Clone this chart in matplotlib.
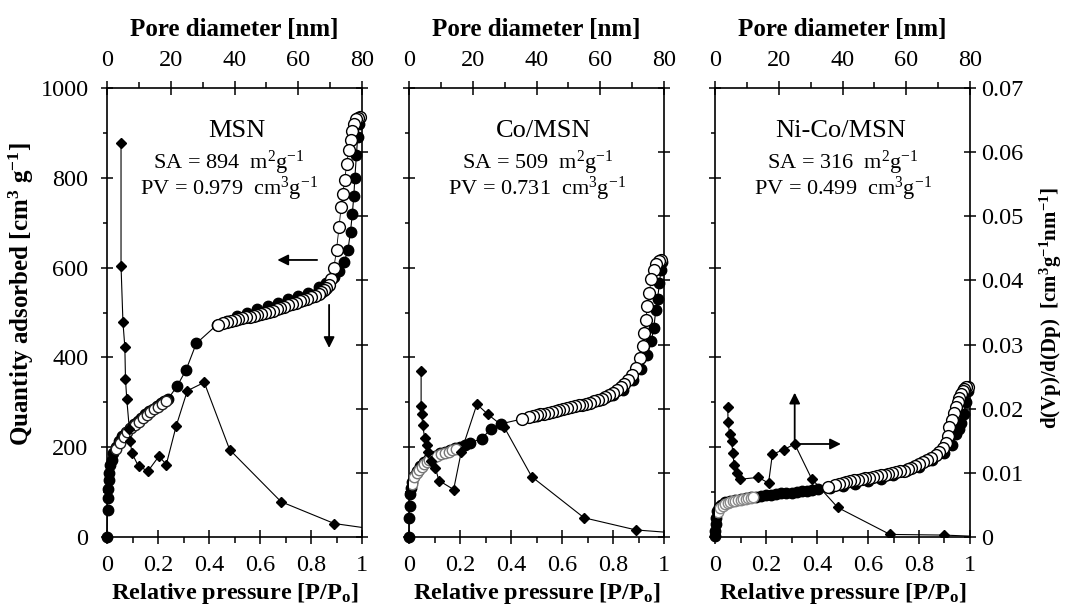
import matplotlib
matplotlib.use("Agg")
import matplotlib.pyplot as plt
from matplotlib.ticker import MultipleLocator, FuncFormatter

plt.rcParams['font.family'] = ['Liberation Serif', 'DejaVu Serif']
plt.rcParams['mathtext.fontset'] = 'custom'
plt.rcParams['mathtext.rm'] = 'Liberation Serif'
plt.rcParams['mathtext.it'] = 'Liberation Serif:italic'
plt.rcParams['mathtext.bf'] = 'Liberation Serif:bold'
plt.rcParams['axes.linewidth'] = 1.2

# ---------------- data ----------------
samples = ['MSN', 'Co/MSN', 'Ni-Co/MSN']
surface_area = [894, 509, 316]      # m2/g
pore_volume = [0.979, 0.731, 0.499]  # cm3/g

# MSN: N2 adsorption branch (relative pressure, quantity adsorbed)
ads1_p = [0.0, 0.002, 0.003, 0.004, 0.006, 0.008, 0.012, 0.018, 0.025, 0.035,
          0.047, 0.06, 0.075, 0.09, 0.105, 0.12, 0.135, 0.15, 0.165, 0.18,
          0.195, 0.21, 0.225, 0.24, 0.275, 0.31, 0.35, 0.43, 0.47, 0.51,
          0.55, 0.59, 0.63, 0.67, 0.71, 0.75, 0.79, 0.83, 0.86, 0.89,
          0.91, 0.93, 0.945, 0.955, 0.962, 0.968, 0.972, 0.978, 0.983, 0.988, 0.992]
ads1_q = [0, 60, 86, 108, 127, 142, 160, 172, 186, 200,
          213, 224, 234, 243, 251, 259, 266, 273, 280, 286,
          292, 298, 303, 308, 336, 372, 431, 472, 482, 492,
          500, 508, 515, 522, 529, 536, 544, 556, 565, 578,
          592, 612, 640, 680, 720, 760, 800, 850, 890, 920, 935]
# MSN: desorption branch
des1_p = [0.992, 0.985, 0.978, 0.97, 0.962, 0.955, 0.948, 0.94, 0.932, 0.925,
          0.918, 0.91, 0.9, 0.89, 0.88, 0.87, 0.86, 0.85, 0.84, 0.83,
          0.815, 0.8, 0.785, 0.77, 0.755, 0.74, 0.725, 0.71, 0.695, 0.68,
          0.665, 0.65, 0.635, 0.62, 0.605, 0.59, 0.575, 0.56, 0.545, 0.53,
          0.515, 0.5, 0.485, 0.47, 0.455, 0.435]
des1_q = [935, 934, 930, 920, 905, 885, 862, 830, 795, 765,
          735, 690, 640, 600, 575, 562, 554, 549, 545, 541,
          537, 534, 531, 528, 525, 522, 519, 516, 513, 510,
          507, 504, 501, 499, 497, 495, 493, 491, 489, 487,
          485, 483, 481, 479, 477, 472]
des1_low_p = [0.035, 0.05, 0.065, 0.08, 0.095, 0.11, 0.125, 0.14, 0.155, 0.17,
              0.185, 0.2, 0.215, 0.23]
des1_low_q = [195, 210, 222, 233, 242, 250, 257, 264, 271, 278,
              284, 290, 296, 302]
# MSN: BJH pore size distribution (pore diameter nm, dV/dD)
psd1_d = [4.4, 4.4, 5.0, 5.6, 5.8, 6.2, 7.0, 7.3, 7.8, 9.9,
          12.9, 16.3, 18.6, 21.7, 25.2, 30.5, 38.5, 54.6, 71.3, 87.0]
psd1_v = [0.0615, 0.0423, 0.0335, 0.0296, 0.0246, 0.0215, 0.0169, 0.0149, 0.0131, 0.0110,
          0.0103, 0.0126, 0.0113, 0.0173, 0.0228, 0.0241, 0.0136, 0.0055, 0.0021, 0.0010]

# Co/MSN
ads2_p = [0.0, 0.001, 0.002, 0.004, 0.007, 0.012, 0.02, 0.03, 0.045, 0.06,
          0.08, 0.1, 0.12, 0.14, 0.16, 0.18, 0.2, 0.22, 0.24, 0.285,
          0.32, 0.36, 0.445, 0.5, 0.55, 0.6, 0.65, 0.7, 0.75, 0.8,
          0.84, 0.88, 0.91, 0.935, 0.95, 0.96, 0.968, 0.975, 0.982, 0.988, 0.993]
ads2_q = [0, 43, 68, 95, 109, 122, 136, 147, 158, 167,
          175, 181, 186, 190, 194, 198, 200, 205, 210, 219,
          240, 252, 263, 270, 277, 284, 291, 298, 306, 316,
          328, 350, 375, 405, 436, 466, 506, 531, 565, 595, 612]
des2_p = [0.99, 0.98, 0.97, 0.96, 0.95, 0.942, 0.935, 0.929, 0.922, 0.916,
          0.905, 0.89, 0.875, 0.86, 0.845, 0.83, 0.815, 0.8, 0.785, 0.77,
          0.755, 0.74, 0.725, 0.71, 0.695, 0.68, 0.665, 0.65, 0.635, 0.62,
          0.605, 0.59, 0.575, 0.56, 0.545, 0.53, 0.515, 0.5, 0.485, 0.47, 0.445]
des2_q = [618, 615, 608, 595, 575, 543, 515, 484, 455, 425,
          398, 377, 360, 350, 341, 334, 327, 321, 316, 312,
          308, 305, 302, 299, 297, 295, 293, 291, 289, 287,
          285, 283, 281, 279, 277, 275, 273, 271, 269, 267, 263]
des2_low_p = [0.01, 0.02, 0.03, 0.04, 0.05, 0.06, 0.07, 0.08, 0.095, 0.11,
              0.125, 0.14, 0.155, 0.17, 0.185]
des2_low_q = [118, 133, 143, 150, 156, 162, 167, 171, 176, 180,
              184, 187, 190, 193, 196]
psd2_d = [3.8, 3.8, 4.0, 4.3, 4.9, 5.6, 6.1, 7.0, 8.3, 9.4,
          14.0, 16.4, 21.3, 24.8, 29.9, 38.5, 54.9, 71.2, 87.0]
psd2_v = [0.0259, 0.0204, 0.0192, 0.0174, 0.0155, 0.0143, 0.0133, 0.0118, 0.0107, 0.0088,
          0.0074, 0.0133, 0.0207, 0.0191, 0.0171, 0.0094, 0.0030, 0.0011, 0.0005]

# Ni-Co/MSN
ads3_p = [0.0, 0.001, 0.002, 0.004, 0.008, 0.015, 0.025, 0.04, 0.06, 0.08,
          0.1, 0.12, 0.14, 0.16, 0.18, 0.2, 0.22, 0.24, 0.26, 0.28,
          0.3, 0.32, 0.34, 0.36, 0.38, 0.405, 0.45, 0.5, 0.55, 0.6,
          0.65, 0.7, 0.75, 0.8, 0.85, 0.9, 0.93, 0.945, 0.955, 0.965,
          0.975, 0.985, 0.992]
ads3_q = [2, 13, 29, 43, 58, 66, 72, 77, 80, 83,
          85, 87, 88, 89, 91, 93, 94, 96, 97, 98,
          99, 100, 102, 103, 105, 107, 109, 113, 118, 124,
          130, 137, 146, 157, 172, 188, 205, 229, 240, 255,
          275, 300, 325]
des3_p = [0.992, 0.985, 0.978, 0.971, 0.965, 0.958, 0.951, 0.944, 0.938, 0.928,
          0.919, 0.912, 0.906, 0.895, 0.88, 0.865, 0.846, 0.83, 0.815, 0.8,
          0.785, 0.77, 0.755, 0.74, 0.725, 0.71, 0.695, 0.68, 0.665, 0.65,
          0.635, 0.62, 0.605, 0.59, 0.575, 0.56, 0.545, 0.53, 0.515, 0.5,
          0.485, 0.47, 0.445]
des3_q = [334, 333, 330, 325, 318, 310, 300, 289, 277, 260,
          244, 225, 210, 198, 190, 183, 177, 171, 166, 162,
          158, 154, 151, 148, 146, 144, 142, 140, 138, 137,
          135, 134, 132, 131, 129, 128, 126, 124, 122, 120,
          118, 115, 111]
des3_low_p = [0.01, 0.02, 0.03, 0.04, 0.05, 0.06, 0.07, 0.08, 0.09, 0.1,
              0.11, 0.12, 0.13, 0.14, 0.15]
des3_low_q = [55, 64, 69, 73, 76, 78, 80, 81, 82, 83,
              84, 85, 86, 87, 88]
psd3_d = [4.0, 4.1, 4.6, 5.2, 5.6, 6.0, 6.8, 7.9, 13.6, 16.8,
          18.0, 21.5, 25.0, 30.3, 38.5, 54.9, 71.7, 87.0]
psd3_v = [0.0202, 0.0179, 0.0160, 0.0150, 0.0131, 0.0112, 0.0100, 0.0090, 0.0093, 0.0084,
          0.0129, 0.0136, 0.0145, 0.0091, 0.0046, 0.0004, 0.0003, 0.0]

adsorption = [(ads1_p, ads1_q), (ads2_p, ads2_q), (ads3_p, ads3_q)]
desorption = [(des1_p, des1_q), (des2_p, des2_q), (des3_p, des3_q)]
desorption_low = [(des1_low_p, des1_low_q), (des2_low_p, des2_low_q), (des3_low_p, des3_low_q)]
psd = [(psd1_d, psd1_v), (psd2_d, psd2_v), (psd3_d, psd3_v)]

# ---------------- layout ----------------
W, H = 1069, 609
fig = plt.figure(figsize=(W / 100, H / 100), dpi=100)
panel_left_px = [107, 409, 715]
panel_w_px = 255
top_px, bottom_px = 88, 537
title_x = [0.508, 0.528, 0.492]
line_x = [0.477, 0.503, 0.50]
low_edge = ['#222222', '#777777', '#888888']

TICK_FS = 17.5
LABEL_FS = 18


def num_fmt(v, _pos):
    return '0' if abs(v) < 1e-12 else f'{v:g}'


for i in range(3):
    rect = [panel_left_px[i] / W, 1 - bottom_px / H,
            panel_w_px / W, (bottom_px - top_px) / H]
    ax = fig.add_axes(rect)
    ax2 = fig.add_axes(rect, frameon=False)

    # isotherms on relative pressure / quantity adsorbed
    ax.set_xlim(0, 1)
    ax.set_ylim(0, 1000)
    ap, aq = adsorption[i]
    ax.plot(ap, aq, '-', color='black', lw=0.8, marker='o', ms=7.5,
            mfc='black', mec='black', zorder=2, clip_on=False)
    dp, dq = desorption[i]
    ax.plot(dp, dq, '-', color='black', lw=0.6, marker='o', ms=8.5,
            mfc='white', mec='black', mew=1.0, zorder=3, clip_on=False)
    lp, lq = desorption_low[i]
    ax.plot(lp, lq, ls='none', marker='o', ms=7.5,
            mfc='white', mec=low_edge[i], mew=1.0, zorder=3)

    # pore size distribution on pore diameter / dV/dD
    ax2.set_xlim(0, 80)
    ax2.set_ylim(0, 0.07)
    d, v = psd[i]
    ax2.plot(d, v, '-', color='black', lw=0.8, marker='D', ms=5.5,
             mfc='black', mec='black', zorder=4)

    # bottom / left axes
    ax.xaxis.set_major_locator(MultipleLocator(0.2))
    ax.xaxis.set_minor_locator(MultipleLocator(0.1))
    ax.yaxis.set_major_locator(MultipleLocator(200))
    ax.yaxis.set_minor_locator(MultipleLocator(100))
    ax.xaxis.set_major_formatter(FuncFormatter(num_fmt))
    ax.tick_params(axis='x', which='major', direction='inout', length=10,
                   width=1.1, labelsize=TICK_FS, pad=8)
    ax.tick_params(axis='x', which='minor', direction='out', length=4, width=1.1)
    ax.tick_params(axis='y', which='major', direction='inout', length=8.5,
                   width=1.1, labelsize=TICK_FS, pad=9, labelleft=(i == 0))
    ax.tick_params(axis='y', which='minor', direction='out', length=3, width=1.1)
    ax.tick_params(top=False, right=False, which='both')

    # top / right axes
    ax2.xaxis.tick_top()
    ax2.yaxis.tick_right()
    ax2.xaxis.set_label_position('top')
    ax2.yaxis.set_label_position('right')
    ax2.xaxis.set_major_locator(MultipleLocator(20))
    ax2.xaxis.set_minor_locator(MultipleLocator(10))
    ax2.yaxis.set_major_locator(MultipleLocator(0.01))
    ax2.yaxis.set_major_formatter(FuncFormatter(num_fmt))
    ax2.tick_params(axis='x', which='major', direction='inout', length=10,
                    width=1.1, labelsize=TICK_FS, pad=7)
    ax2.tick_params(axis='x', which='minor', direction='out', length=4, width=1.1)
    ax2.tick_params(axis='y', which='major', direction='inout', length=8.5,
                    width=1.1, labelsize=TICK_FS, pad=4, labelright=(i == 2))

    ax.set_xlabel('Relative pressure [P/P$_{\\mathbf{o}}$]', fontsize=17.5,
                  fontweight='bold')
    ax.xaxis.set_label_coords(0.5, -0.098)
    ax2.set_xlabel('Pore diameter [nm]', fontsize=LABEL_FS, fontweight='bold')
    ax2.xaxis.set_label_coords(0.5, 1.116)

    if i == 0:
        ax.set_ylabel('Quantity adsorbed [cm$^{\\mathbf{3}}$ g$^{\\mathbf{-1}}$]',
                      fontsize=18, fontweight='bold')
        ax.yaxis.set_label_coords(-0.28, 0.54)
    if i == 2:
        ax2.set_ylabel('d(Vp)/d(Dp)  [cm$^{\\mathbf{3}}$g$^{\\mathbf{-1}}$nm$^{\\mathbf{-1}}$]',
                       fontsize=15, fontweight='bold')
        ax2.yaxis.set_label_coords(1.265, 0.51)

    # sample name and textural properties
    ax.text(title_x[i], 0.905, samples[i], transform=ax.transAxes,
            ha='center', va='center', fontsize=19)
    ax.text(line_x[i], 0.833, f'SA = {surface_area[i]}  m$^{{2}}$g$^{{-1}}$',
            transform=ax.transAxes, ha='center', va='center', fontsize=16)
    ax.text(line_x[i], 0.776, f'PV = {pore_volume[i]:.3f}  cm$^{{3}}$g$^{{-1}}$',
            transform=ax.transAxes, ha='center', va='center', fontsize=16)

    arrow = dict(arrowstyle='-|>', color='black', lw=1.3, mutation_scale=16,
                 shrinkA=0, shrinkB=0)
    if i == 0:
        ax.annotate('', xy=(0.668, 617), xytext=(0.824, 617), arrowprops=arrow)
        ax.annotate('', xy=(0.871, 421), xytext=(0.871, 517), arrowprops=arrow)
    if i == 2:
        ax2.annotate('', xy=(25.0, 0.0225), xytext=(25.0, 0.0145), arrowprops=arrow)
        ax2.annotate('', xy=(39.5, 0.0145), xytext=(25.0, 0.0145), arrowprops=arrow)

fig.savefig('out.png', dpi=100)
